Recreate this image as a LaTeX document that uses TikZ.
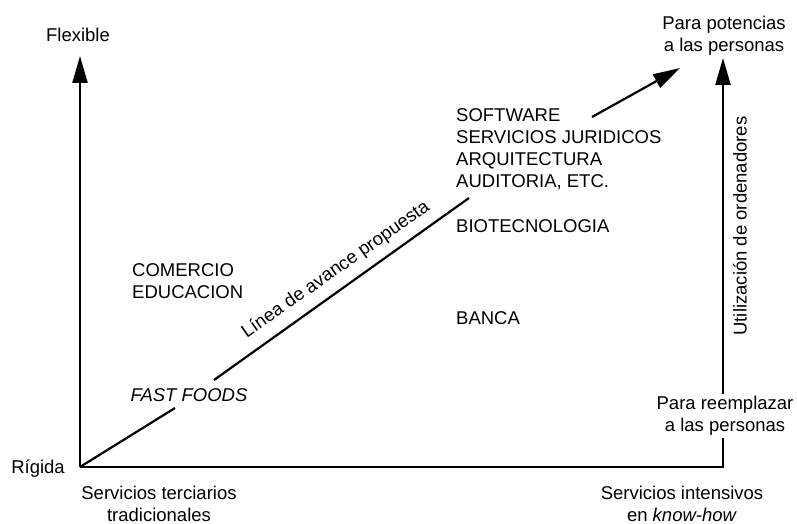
\documentclass[tikz,border=0pt]{standalone}
\usepackage{fontspec}
\setmainfont{Liberation Sans}
\usetikzlibrary{arrows.meta}
\tikzset{
  lbl/.style={inner sep=1pt, font=\fontsize{18.5}{22}\selectfont, align=center},
  lblL/.style={lbl, align=left, anchor=west},
  axis/.style={line width=2.2pt, line join=miter},
  arr/.style={-{Triangle[length=27pt,width=15pt]}},
  cut/.style={fill=white}
}
\begin{document}
\begin{tikzpicture}[x=1pt,y=-1pt]
\useasboundingbox (0,0) rectangle (797,524);
% coordinates
\coordinate (O) at (80,467);
\coordinate (TL) at (80,56);
\coordinate (BR) at (723,467);
\coordinate (TR) at (723,58);
\coordinate (d1) at (175,408);
\coordinate (d2) at (214,380);
\coordinate (d3) at (469,198);
\coordinate (d4) at (592,117);
\coordinate (D) at (680,68);
% axes
\draw[axis,arr] (O) -- (TL);
\draw[axis,arr] (O) -- (BR) -- (TR);
% diagonal proposed line
\draw[axis] (O) -- (d1);
\draw[axis] (d2) -- (d3);
\draw[axis,arr] (d4) -- (D);
% labels
\node[lbl] (flex) at (78,35) {Flexible};
\node[lbl] (rig) at (38,469) {Rígida};
\node[lbl] (stt) at (159,504) {Servicios terciarios\\tradicionales};
\node[lbl] (sik) at (682,504) {Servicios intensivos\\en \textit{know-how}};
\node[lbl] (ppot) at (724,36) {Para potencias\\a las personas};
\node[lbl,cut,inner ysep=2pt] (prem) at (725,416) {Para reemplazar\\a las personas};
\node[lbl,rotate=90] (util) at (740,226) {Utilización de ordenadores};
\node[lbl] (fast) at (189,395) {\textit{FAST FOODS}};
\node[lblL] (com) at (131,281) {COMERCIO\\EDUCACION};
\node[lblL] (soft) at (455,149) {SOFTWARE\\SERVICIOS JURIDICOS\\ARQUITECTURA\\AUDITORIA, ETC.};
\node[lblL] (bio) at (455,226) {BIOTECNOLOGIA};
\node[lblL] (banca) at (455,318) {BANCA};
\node[lbl,rotate=35] (linea) at (336,270) {Línea de avance propuesta};
\end{tikzpicture}
\end{document}
